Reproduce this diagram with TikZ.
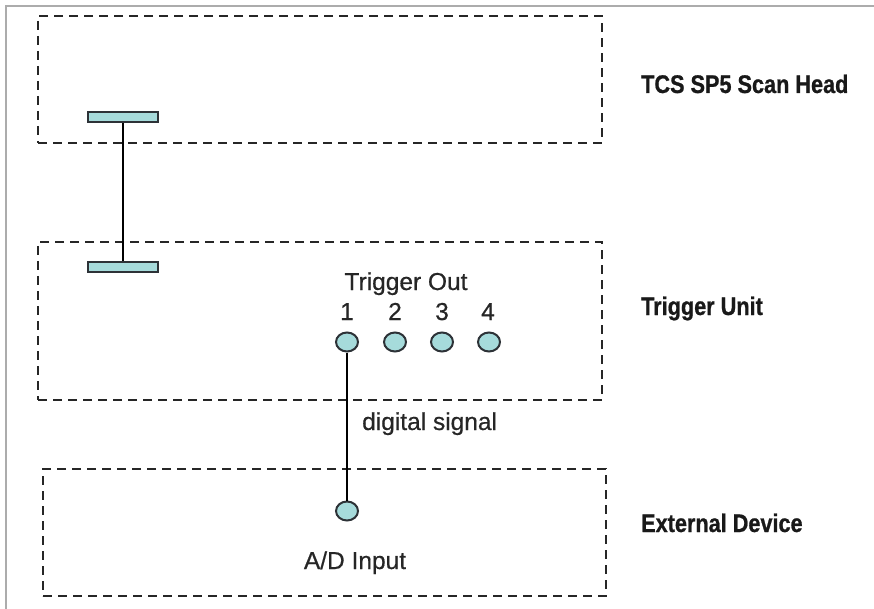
\documentclass[tikz,border=0pt]{standalone}
\usepackage{fontspec}
\setmainfont{Liberation Sans}[FakeBold=0.6]
\newfontfamily\unitfont{Liberation Sans}[FakeStretch=0.85, BoldFeatures={FakeBold=0.8}]
\usepackage{tikz}
\usetikzlibrary{shapes,positioning}
\definecolor{portfill}{RGB}{166,219,219}
\definecolor{portline}{RGB}{45,50,55}

\begin{document}
\begin{tikzpicture}[x=1pt, y=-1pt,
    unitbox/.style={draw=black!85, rectangle, line width=2.8pt, dash pattern=on 9pt off 6pt, inner sep=0pt},
    unitname/.style={anchor=base west, inner sep=0pt, text=black!90, font=\unitfont\bfseries\fontsize{25.5}{30}\selectfont},
    label/.style={anchor=base, inner sep=0pt, text=black!85, font=\fontsize{24.5}{29}\selectfont},
    bar/.style={draw=portline, fill=portfill, rectangle, line width=2pt, minimum width=70pt, minimum height=10pt, inner sep=0pt},
    port/.style={draw=portline, fill=portfill, ellipse, line width=2pt, minimum width=22pt, minimum height=19pt, inner sep=0pt},
    wire/.style={line width=2pt}]
    \useasboundingbox (0,0) rectangle (874,609);
    \draw [gray!65, line width=2.5pt] (874,6) -- (6,6) -- (6,609);

    \node (head) [unitbox, minimum width=564pt, minimum height=127pt] at (320,79.5) {};
    \node (trigger) [unitbox, minimum width=564pt, minimum height=158pt] at (320,321) {};
    \node (device) [unitbox, minimum width=563pt, minimum height=127pt] at (324.5,532.5) {};

    \node (headname) [unitname] at (641,93) {TCS SP5 Scan Head};
    \node (triggername) [unitname] at (641,315) {Trigger Unit};
    \node (devicename) [unitname] at (641,532) {External Device};

    \node (headbar) [bar] at (122.5,117) {};
    \node (triggerbar) [bar] at (122.5,267.5) {};

    \node (outtitle) [label] at (406,290) {Trigger Out};
    \node (num1) [label] at (347,320) {1};
    \node (num2) [label] at (395,320) {2};
    \node (num3) [label] at (442,320) {3};
    \node (num4) [label] at (488,320) {4};
    \node (out1) [port] at (347,342) {};
    \node (out2) [port] at (395,342) {};
    \node (out3) [port] at (442,342) {};
    \node (out4) [port] at (489,342) {};

    \node (signal) [label, anchor=base west] at (362,430) {digital signal};
    \node (adin) [port] at (347,511) {};
    \node (adname) [label] at (355,569) {A/D Input};

    \draw [wire] (headbar) -- (triggerbar);
    \draw [wire] (out1) -- (adin);
\end{tikzpicture}
\end{document}
